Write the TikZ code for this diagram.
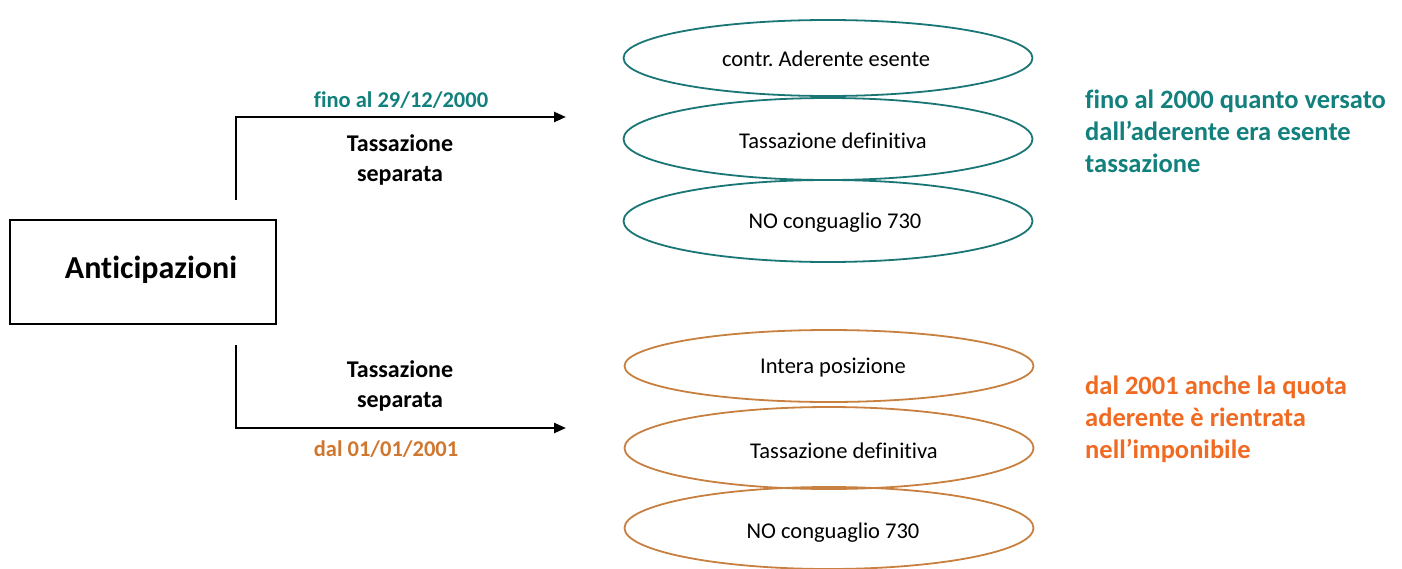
\documentclass[tikz,border=0pt]{standalone}
\usepackage{fontspec}
\setmainfont[Ligatures=NoCommon]{Carlito}
\frenchspacing
\usetikzlibrary{arrows.meta,shapes.geometric}
\definecolor{teal1}{HTML}{1A7675}
\definecolor{tealtxt}{HTML}{12807C}
\definecolor{orline}{HTML}{C7803F}
\definecolor{ortxt}{HTML}{F06A22}
\definecolor{orlab}{HTML}{D0772F}
\tikzset{
  ell/.style={ellipse, draw, line width=1.8pt, minimum width=409pt, inner sep=0pt},
  ellT/.style={ell, draw=teal1},
  ellO/.style={ell, draw=orline},
  etext/.style={font=\fontsize{22.5}{26}\selectfont, inner sep=0pt},
  conn/.style={line width=2.4pt, -{Triangle[length=12pt,width=10pt]}},
  lab/.style={font=\fontsize{24}{30}\selectfont\bfseries, align=center},
  datelab/.style={font=\fontsize{22.5}{26}\selectfont\bfseries},
  note/.style={font=\fontsize{26.5}{32}\selectfont\bfseries, align=left, anchor=north west, inner sep=0pt}
}
\begin{document}
\begin{tikzpicture}[x=1pt,y=-1pt]
\useasboundingbox (0,0) rectangle (1402,568);
\node[draw, line width=1.6pt, minimum width=266pt, minimum height=104pt, inner sep=0pt] (ant) at (143,272) {};
\node[font=\fontsize{32}{36}\selectfont\bfseries, inner sep=0pt] (antt) at (151,270) {Anticipazioni};
% top branch
\coordinate (t0) at (236,200);
\coordinate (t1) at (236,117);
\coordinate (t2) at (566,117);
\draw[conn] (t0) -- (t1) -- (t2);
\node[datelab, text=tealtxt] (d1) at (401,100) {fino al 29/12/2000};
\node[lab] (ts1) at (400,160) {Tassazione\\separata};
% bottom branch
\coordinate (b0) at (236,345);
\coordinate (b1) at (236,428);
\coordinate (b2) at (566,428);
\draw[conn] (b0) -- (b1) -- (b2);
\node[lab] (ts2) at (400,386) {Tassazione\\separata};
\node[datelab, text=orlab] (d2) at (386,449) {dal 01/01/2001};
% ellipses top
\node[ellT, minimum height=76pt] (e1) at (828,58) {};
\node[ellT, minimum height=82pt] (e2) at (828,139) {};
\node[ellT, minimum height=82pt] (e3) at (828,221) {};
\node[etext] (e1t) at (826,59) {contr. Aderente esente};
\node[etext] (e2t) at (833,141) {Tassazione definitiva};
\node[etext] (e3t) at (835,223) {NO conguaglio 730};
% ellipses bottom
\node[ellO, minimum height=72pt] (f1) at (829,366) {};
\node[ellO, minimum height=82pt] (f2) at (829,448) {};
\node[ellO, minimum height=82pt] (f3) at (829,528) {};
\node[etext] (f1t) at (833,368) {Intera posizione};
\node[etext] (f2t) at (844,451) {Tassazione definitiva};
\node[etext] (f3t) at (833,533) {NO conguaglio 730};
% notes
\node[note, text=tealtxt] (n1) at (1085,90) {fino al 2000 quanto versato\\dall’aderente era esente\\tassazione};
\node[note, text=ortxt] (n2) at (1085,376) {dal 2001 anche la quota\\aderente è rientrata\\nell’imponibile};
\end{tikzpicture}
\end{document}
